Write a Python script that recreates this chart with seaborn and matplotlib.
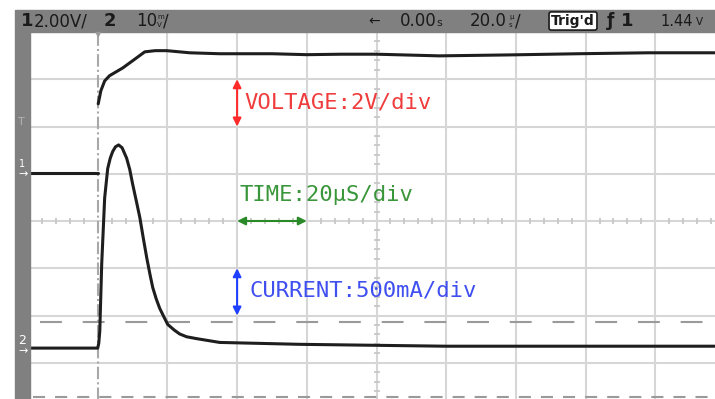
import matplotlib
matplotlib.use("Agg")
import matplotlib.pyplot as plt
from matplotlib.patches import Rectangle
import numpy as np
import pandas as pd
import seaborn as sns

# ch1 = voltage (V), ch2 = current (A), time in microseconds from trigger
v_time = [-20, 0, 0.15, 0.9, 2.0, 3.4, 7.2, 11.2, 13.5, 16.5, 19.8, 26.4, 35, 50, 60, 70, 80, 98, 118, 138, 158, 177]
v_volt = [0, 0, 2.92, 3.47, 3.89, 4.11, 4.44, 4.87, 5.12, 5.17, 5.17, 5.08, 5.04, 5.04, 5.0, 5.02, 5.02, 4.95, 4.99, 5.04, 5.08, 5.08]
v_seg = [0, 0] + [1] * 20

i_time = [-20, 0, 0.3, 0.6, 1.15, 2.0, 2.87, 3.6, 4.3, 5.1, 6.0, 7.0, 8.3, 9.2, 10.0, 11.0, 12.1, 13.1, 14.1, 15.0,
          15.8, 16.8, 17.8, 19.0, 20.1, 22.0, 23.5, 25.5, 28.4, 35, 58, 100, 140, 177]
i_amp = [0, 0, 0.05, 0.18, 0.89, 1.59, 1.90, 2.01, 2.08, 2.13, 2.15, 2.12, 2.01, 1.89, 1.74, 1.57, 1.38, 1.16, 0.95,
         0.78, 0.64, 0.52, 0.42, 0.33, 0.25, 0.19, 0.15, 0.12, 0.10, 0.06, 0.04, 0.02, 0.02, 0.02]

volt_per_div = 2.0
amp_per_div = 0.5
us_per_div = 20
ch1_offset = 1.02   # divisions above centre
ch2_offset = -2.69

W, H = 715, 399


def px(x, y):
    return x / W, 1 - y / H


sns.set_style("white")
plt.rcParams["font.family"] = ["DejaVu Sans"]

fig = plt.figure(figsize=(W / 100, H / 100), dpi=100)
ax = fig.add_axes([28 / W, 1 - 410 / H, 697 / W, 378 / H])

# graticule
ax.set_xlim(-us_per_div, 9 * us_per_div)
ax.set_ylim(-4, 4)
xt = [t for t in np.arange(-20, 181, us_per_div) if t != 0]
ax.set_xticks(xt)
ax.set_yticks(range(-4, 5))
ax.grid(True, color="#d6d6d6", lw=1.5)
ax.tick_params(length=0, labelbottom=False, labelleft=False)
for s in ax.spines.values():
    s.set_visible(False)

minor_x = [t for t in np.arange(-20, 181, 4) if t % 20 != 0]
minor_y = [y for y in np.arange(-4, 4.01, 0.2) if abs(y - round(y)) > 0.01]
ax.plot(minor_x, [0] * len(minor_x), ls="none", marker="|", ms=5, mew=1.2, color="#c4c4c4")
ax.plot([80] * len(minor_y), minor_y, ls="none", marker="_", ms=5, mew=1.2, color="#c4c4c4")

# trigger position line and cursor lines
ax.axvline(0, color="#a8a8a8", lw=1.5, dashes=(6, 1.5, 1, 1.5))
ax.plot([-16.6, 180], [-2.14, -2.14], color="#9a9a9a", lw=1.5, dashes=(10.5, 10))
ax.plot([-18.6, 180], [-3.72, -3.72], color="#9a9a9a", lw=1.5, dashes=(5.8, 4.8))

# traces
volt = pd.DataFrame({"t": v_time, "div": np.array(v_volt) / volt_per_div + ch1_offset, "seg": v_seg})
curr = pd.DataFrame({"t": i_time, "div": np.array(i_amp) / amp_per_div + ch2_offset})
sns.lineplot(data=volt, x="t", y="div", units="seg", estimator=None, sort=False,
             color="#1e1e1e", lw=2.2, ax=ax)
sns.lineplot(data=curr, x="t", y="div", estimator=None, sort=False,
             color="#1e1e1e", lw=2.2, ax=ax)
ax.set_xlabel("")
ax.set_ylabel("")

# scale annotations
mono = "DejaVu Sans Mono"
ax.annotate("", xy=(40, 3.0), xytext=(40, 2.0),
            arrowprops=dict(arrowstyle="<|-|>", color="#ff2a2a", lw=1.5, mutation_scale=12, shrinkA=0, shrinkB=0))
ax.text(42.2, 2.5, "VOLTAGE:2V/div", color="#f03c3c", fontsize=16, family=mono, va="center")
ax.annotate("", xy=(40, 0), xytext=(60, 0),
            arrowprops=dict(arrowstyle="<|-|>", color="#2a8a2a", lw=1.5, mutation_scale=12, shrinkA=0, shrinkB=0))
ax.text(40.7, 0.55, "TIME:20μS/div", color="#3a963a", fontsize=16, family=mono, va="center")
ax.annotate("", xy=(40, -1.0), xytext=(40, -2.0),
            arrowprops=dict(arrowstyle="<|-|>", color="#2040ff", lw=1.5, mutation_scale=12, shrinkA=0, shrinkB=0))
ax.text(43.6, -1.48, "CURRENT:500mA/div", color="#4050f0", fontsize=16, family=mono, va="center")

# scope frame
fig.patches.append(Rectangle(px(15, 32), 700 / W, 22 / H, transform=fig.transFigure, color="#808080", zorder=5))
fig.patches.append(Rectangle(px(15, 399), 15 / W, 367 / H, transform=fig.transFigure, color="#808080", zorder=5))

dark = "#1a1a1a"
fig.text(*px(21, 21), "1", fontsize=13, weight="bold", color=dark, va="center", zorder=6)
fig.text(*px(34, 21), "2.00V/", fontsize=12, color=dark, va="center", zorder=6)
fig.text(*px(104, 21), "2", fontsize=13, weight="bold", color=dark, va="center", zorder=6)
fig.text(*px(136, 21), "10", fontsize=12, color=dark, va="center", zorder=6)
fig.text(*px(157, 17), "m", fontsize=5, color=dark, va="center", zorder=6)
fig.text(*px(157, 25), "V", fontsize=5, color=dark, va="center", zorder=6)
fig.text(*px(163, 21), "/", fontsize=12, color=dark, va="center", zorder=6)

fig.text(*px(368, 21), "←", fontsize=10, color=dark, va="center", zorder=6)
fig.text(*px(400, 21), "0.00", fontsize=12, color=dark, va="center", zorder=6)
fig.text(*px(436, 23), "s", fontsize=8, color=dark, va="center", zorder=6)
fig.text(*px(470, 21), "20.0", fontsize=12, color=dark, va="center", zorder=6)
fig.text(*px(509, 17), "μ", fontsize=5, color=dark, va="center", zorder=6)
fig.text(*px(509, 25), "s", fontsize=5, color=dark, va="center", zorder=6)
fig.text(*px(515, 21), "/", fontsize=12, color=dark, va="center", zorder=6)
fig.text(*px(573, 21), "Trig'd", fontsize=10, weight="bold", color=dark, va="center", ha="center", zorder=6,
         bbox=dict(boxstyle="round,pad=0.15", fc="white", ec=dark, lw=1.2))
fig.text(*px(607, 21), "ƒ", fontsize=12, weight="bold", color=dark, va="center", zorder=6)
fig.text(*px(621, 21), "1", fontsize=13, weight="bold", color=dark, va="center", zorder=6)
fig.text(*px(660, 21), "1.44", fontsize=10.5, color=dark, va="center", zorder=6)
fig.text(*px(696, 22), "V", fontsize=7.5, color=dark, va="center", zorder=6)

fig.text(*px(98, 35), "▼", fontsize=6, color="#9a9a9a", va="center", ha="center", zorder=6)

fig.text(*px(18, 122), "T", fontsize=8, color="#b4b4b4", va="center", zorder=6)
fig.text(*px(19, 164), "1", fontsize=7, color="white", va="center", zorder=6)
fig.text(*px(18, 174), "→", fontsize=8, color="white", va="center", zorder=6)
fig.text(*px(18, 340), "2", fontsize=9, color="white", va="center", zorder=6)
fig.text(*px(18, 351), "→", fontsize=8, color="white", va="center", zorder=6)

fig.savefig("out.png", dpi=100, facecolor="white")
